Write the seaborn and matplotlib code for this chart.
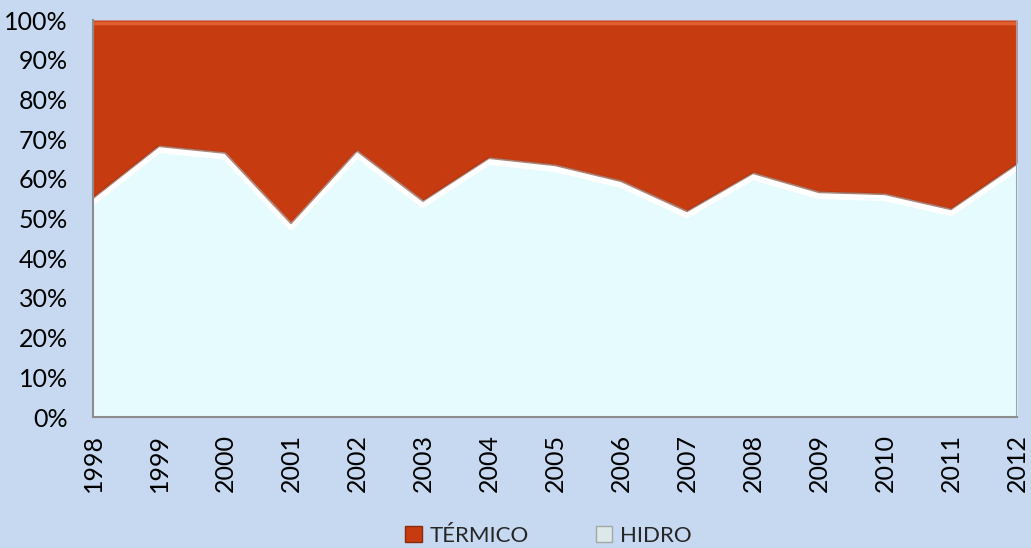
import matplotlib
matplotlib.use("Agg")
import matplotlib.pyplot as plt
import matplotlib.transforms as mtransforms
from matplotlib.patches import Patch
import seaborn as sns
import numpy as np
import pandas as pd

years = [1998, 1999, 2000, 2001, 2002, 2003, 2004, 2005, 2006, 2007, 2008, 2009, 2010, 2011, 2012]
hidro = [55.4, 68.5, 66.8, 49.1, 67.3, 54.7, 65.5, 63.7, 59.7, 52.1, 61.7, 56.9, 56.4, 52.6, 64.0]
termico = [100 - h for h in hidro]
y_ticks = [0, 10, 20, 30, 40, 50, 60, 70, 80, 90, 100]

bg = "#C6D9F0"
c_term = "#C63C10"
c_hidro = "#E6FBFD"

sns.set_theme(style="white")
plt.rcParams["font.family"] = ["Lato", "DejaVu Sans"]

fig = plt.figure(figsize=(10.31, 5.48), dpi=100, facecolor=bg)
ax = fig.add_axes([0.0902, 0.239, 0.8962, 0.7245])
ax.set_facecolor(bg)

df = pd.DataFrame({"year": years, "HIDRO": hidro, "TÉRMICO": termico})
ax.stackplot(df["year"], df["HIDRO"], df["TÉRMICO"], colors=[c_hidro, c_term], linewidth=0)

# bevel-like effects: white glow under the boundary, dark shadow on the orange edge,
# lighter highlight along the top of the orange area
glow = mtransforms.offset_copy(ax.transData, fig=fig, x=0, y=-3.5, units="points")
shadow = mtransforms.offset_copy(ax.transData, fig=fig, x=0, y=-0.8, units="points")
sns.lineplot(x=df["year"], y=df["HIDRO"], ax=ax, color="white", linewidth=4.5, transform=glow, legend=False)
sns.lineplot(x=df["year"], y=df["HIDRO"], ax=ax, color="#7A2208", linewidth=1.4, alpha=0.55, transform=shadow, legend=False)
top_hl = mtransforms.offset_copy(ax.transData, fig=fig, x=0, y=-2.2, units="points")
ax.plot([1998, 2012], [100, 100], color="#E8673A", linewidth=2.5, alpha=0.8, transform=top_hl)

ax.set_xlim(1998, 2012)
ax.set_ylim(0, 100)
ax.set_xticks(years)
ax.set_xticklabels([str(y) for y in years], rotation=90, fontsize=18)
ax.set_yticks(y_ticks)
ax.set_yticklabels([f"{v}%" for v in y_ticks], fontsize=18)
ax.set_xlabel("")
ax.set_ylabel("")

for side in ["top", "right"]:
    ax.spines[side].set_visible(False)
for side in ["left", "bottom"]:
    ax.spines[side].set_color("#8C8C8C")
    ax.spines[side].set_linewidth(1.5)
ax.tick_params(axis="both", which="both", direction="out", length=6, width=1.5,
               color="#8C8C8C", labelcolor="black")
ax.tick_params(axis="y", pad=12)
ax.tick_params(axis="x", pad=6)
ax.axvline(2012, color="#9AA3AD", linewidth=1.5)

handles = [Patch(facecolor=c_term, edgecolor="#8A2A0A", label="TÉRMICO"),
           Patch(facecolor="#DDE8E8", edgecolor="#A0A8A8", label="HIDRO")]
fig.legend(handles=handles, loc="center", bbox_to_anchor=(0.532, 0.022), ncol=2, frameon=False,
           fontsize=16, handlelength=0.75, handleheight=0.75, handletextpad=0.35, columnspacing=3.0)

fig.savefig("out.png", dpi=100, facecolor=bg)
